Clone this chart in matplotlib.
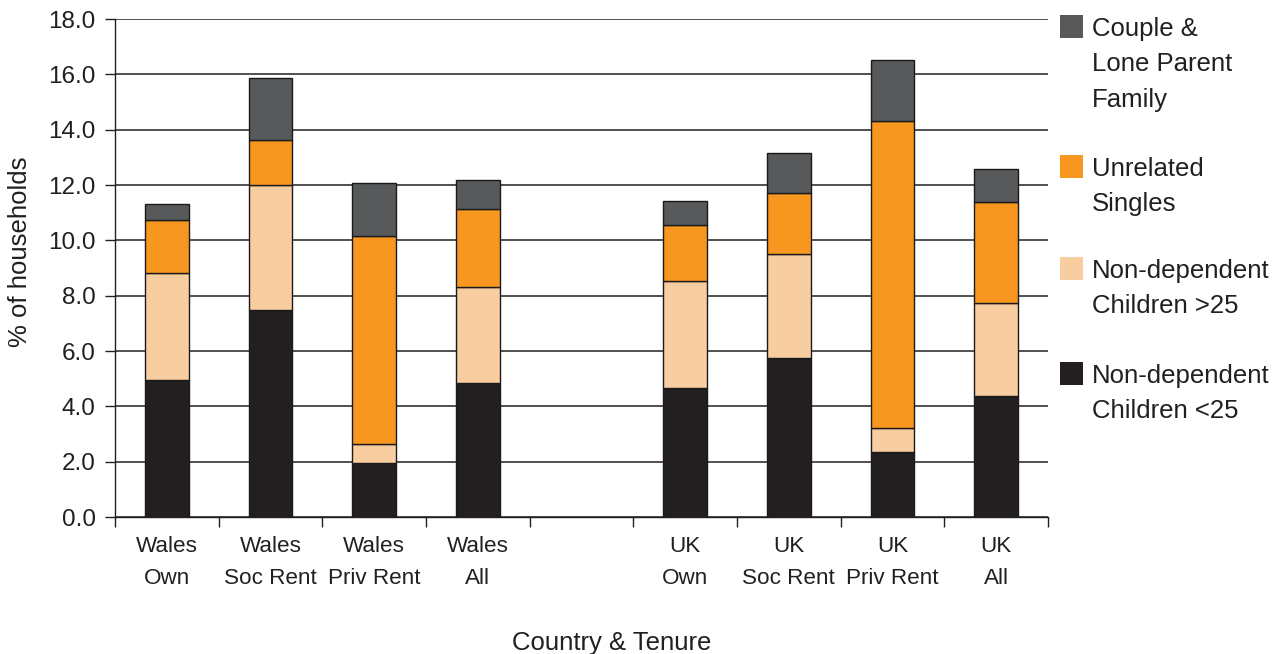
import matplotlib
matplotlib.use("Agg")
import matplotlib.pyplot as plt
from matplotlib.patches import Rectangle
import numpy as np

plt.rcParams['font.family'] = ['Liberation Sans', 'DejaVu Sans']

# categories (empty slot between Wales and UK)
categories = ["Wales\nOwn", "Wales\nSoc Rent", "Wales\nPriv Rent", "Wales\nAll", "",
              "UK\nOwn", "UK\nSoc Rent", "UK\nPriv Rent", "UK\nAll"]

# series values, % of households (bottom to top); NaN for the gap slot
nd_under25 = [4.95, 7.47, 1.95, 4.85, np.nan, 4.66, 5.74, 2.35, 4.38]
nd_over25 = [3.86, 4.53, 0.68, 3.47, np.nan, 3.86, 3.75, 0.86, 3.37]
unrelated = [1.92, 1.64, 7.53, 2.81, np.nan, 2.03, 2.21, 11.10, 3.65]
couple_lone = [0.58, 2.22, 1.93, 1.06, np.nan, 0.87, 1.45, 2.22, 1.19]

series = [
    ("Non-dependent\nChildren <25", nd_under25, "#231f20"),
    ("Non-dependent\nChildren >25", nd_over25, "#f8cda0"),
    ("Unrelated\nSingles", unrelated, "#f7971f"),
    ("Couple &\nLone Parent\nFamily", couple_lone, "#58595b"),
]

TXT = "#231f20"

fig = plt.figure(figsize=(12.86, 6.54), dpi=100)
ax = fig.add_axes([115 / 1286, 1 - 517 / 654, (1048 - 115) / 1286, (517 - 19) / 654])

x = np.arange(len(categories))
bottom = np.zeros(len(categories))
for label, vals, color in series:
    v = np.array(vals, dtype=float)
    ok = ~np.isnan(v)
    ax.bar(x[ok], v[ok], bottom=bottom[ok], width=0.42, color=color,
           edgecolor="#1a1a1a", linewidth=1.0, zorder=3)
    bottom = bottom + np.nan_to_num(v)

ax.set_xlim(-0.5, len(categories) - 0.5)
ax.set_ylim(0, 18)
yt = np.arange(0, 18.1, 2)
ax.set_yticks(yt)
ax.set_yticklabels([f"{t:.1f}" for t in yt])
ax.yaxis.grid(True, color="#231f20", linewidth=1.1, zorder=0)
ax.set_axisbelow(True)

# category labels sit between the boundary ticks
ax.set_xticks(np.arange(-0.5, len(categories), 1.0))
ax.set_xticklabels([])
ax.set_xticks(x, minor=True)
ax.set_xticklabels(categories, minor=True, fontsize=16.2, color=TXT, linespacing=1.7)
ax.tick_params(axis="x", which="minor", length=0, pad=13.5)
ax.tick_params(axis="x", which="major", length=7, width=1.0, color=TXT, direction="out")
ax.tick_params(axis="y", length=7, width=1.0, color=TXT, labelsize=17.5,
               labelcolor=TXT, pad=7)

for s in ["top", "right"]:
    ax.spines[s].set_visible(False)
for s in ["left", "bottom"]:
    ax.spines[s].set_color(TXT)
    ax.spines[s].set_linewidth(1.0)

fig.text(20 / 1286, 1 - 252 / 654, "% of households", fontsize=18.5, color=TXT,
         rotation=90, ha="center", va="center")
fig.text(612 / 1286, 1 - 650 / 654, "Country & Tenure", fontsize=18.5, color=TXT,
         ha="center", va="baseline")

# legend: square beside the first line of each label
legend_tops = [15, 155, 257, 362]
for (label, vals, color), top in zip(series[::-1], legend_tops):
    fig.patches.append(Rectangle((1060 / 1286, 1 - (top + 23) / 654), 23 / 1286, 23 / 654,
                                 transform=fig.transFigure, facecolor=color,
                                 edgecolor="none"))
    fig.text(1092 / 1286, 1 - (top + 2) / 654, label, fontsize=18.5, color=TXT,
             ha="left", va="top", linespacing=1.6)

fig.savefig("out.png", dpi=100)
